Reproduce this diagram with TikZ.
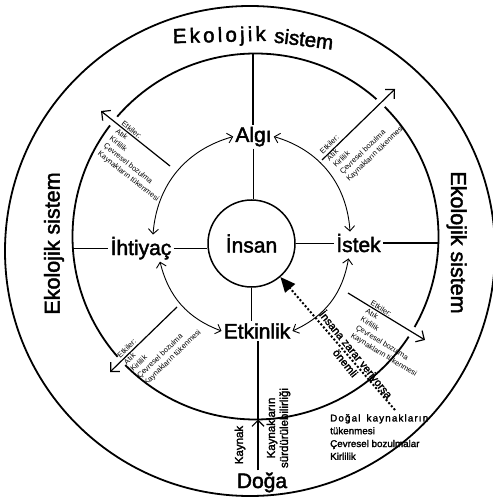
\documentclass[tikz,border=0pt]{standalone}
\usepackage{fontspec}
\setmainfont{Liberation Sans}
\newfontfamily\medfont{Liberation Sans}[FakeBold=2]
\usetikzlibrary{arrows.meta,calc}
\begin{document}
\begin{tikzpicture}[x=1pt,y=-1pt,
  lbl/.style={font=\medfont\fontsize{21}{25}\selectfont, inner sep=2pt},
  sidelbl/.style={font=\medfont\fontsize{21.5}{25}\selectfont, inner sep=0pt},
  toplbl/.style={font=\medfont\fontsize{20.5}{24}\selectfont, inner sep=0pt},
  ring/.style={draw, line width=1.8pt},
  spoke/.style={line width=1.2pt},
  barb/.style={-{Straight Barb[length=6pt,width=12pt]}},
  effarrow/.style={line width=1.2pt, -{Straight Barb[length=6.5pt,width=13pt]}, preaction={draw=white, line width=11pt, -}},
  dbl/.style={line width=0.9pt, {Straight Barb[length=5pt,width=10pt]}-{Straight Barb[length=5pt,width=10pt]}},
  etk/.style={font=\fontsize{7.5}{9.5}\selectfont, align=left, inner sep=0pt, anchor=north west},
  sm/.style={font=\medfont\fontsize{11.5}{13}\selectfont, inner sep=0pt},
]
\useasboundingbox (0,0) rectangle (492,502);
\fill[white] (0,0) rectangle (492,502);

% rings
\draw[ring] (250,251) circle[radius=245];
\draw[ring] (255.5,236.5) circle[radius=183];

% coordinates on the middle ring
\coordinate (mT) at (253,53.5);
\coordinate (mL) at (73.5,248);
\coordinate (mR) at (438,245);
\coordinate (mB) at (258,419.5);

% central and main nodes
\node[draw, circle, line width=1.5pt, minimum size=87pt, inner sep=0pt, font=\medfont\fontsize{21}{25}\selectfont] (insan) at (251.5,243.5) {İnsan};
\node[lbl, anchor=base] (algi) at (253.5,142) {Algı};
\node[lbl, anchor=base] (ihtiyac) at (141,255) {İhtiyaç};
\node[lbl, anchor=base] (istek) at (358.5,252) {İstek};
\node[lbl, anchor=base] (etkinlik) at (257,338.5) {Etkinlik};
\node[lbl, anchor=base] (doga) at (262,488) {Doğa};

% Ekolojik sistem labels
\node[sidelbl, rotate=90] (ekoL) at (54,243.5) {Ekolojik sistem};
\node[sidelbl, rotate=-90] (ekoR) at (456.6,242.5) {Ekolojik sistem};
\node[toplbl, anchor=base, rotate=1.5] (ekoT1) at (219.5,42) {\makebox[93pt]{E\hfill k\hfill o\hfill l\hfill o\hfill j\hfill i\hfill k}};
\node[toplbl, anchor=base, rotate=-7] (ekoT2) at (303,46) {sistem};

% spokes
\draw[spoke] (mT) -- (mT |- algi.north);
\draw[spoke] (algi.south) -- (algi.south |- insan.north);
\draw[spoke] (ihtiyac.west -| mL) -- (ihtiyac.west);
\draw[spoke] (ihtiyac.east) -- (ihtiyac.east -| insan.west);
\draw[spoke] (insan.east) -- (insan.east -| istek.west);
\draw[spoke] (istek.east) -- (istek.east -| mR);
\draw[spoke] (insan.south) -- (insan.south |- etkinlik.north);
\draw[spoke] (etkinlik.south -| mB) -- (mB);
\draw[spoke, barb] (doga.north -| mB) -- (mB);

% Kaynak labels
\node[sm, rotate=90] (kaynak) at (240,445) {Kaynak};
\node[sm, rotate=90, align=center] (surd) at (278.5,428) {Kaynakların\\sürdürülebilirliği};

% Etkiler arrows
\coordinate (tlA) at (170,166); \coordinate (tlB) at (101,111);
\coordinate (trA) at (322,160); \coordinate (trB) at (395,89);
\coordinate (blA) at (177,307); \coordinate (blB) at (110,372);
\coordinate (brA) at (348,293); \coordinate (brB) at (425,340);
\draw[effarrow] (tlA) -- (tlB);
\draw[effarrow] (trA) -- (trB);
\draw[effarrow] (blA) -- (blB);
\draw[effarrow] (brA) -- (brB);

% curved double arrows
\draw[dbl] (algi.west) to[bend right=35] ([xshift=12pt]ihtiyac.north);
\draw[dbl] (algi.east) to[bend left=35] ([xshift=-8.5pt]istek.north);
\draw[dbl] ([xshift=-10pt,yshift=-4pt]istek.south) to[bend left=28] (etkinlik.east);
\draw[dbl] ([xshift=19pt]ihtiyac.south) to[bend right=28] (etkinlik.west);

% Etkiler texts
\node[etk, rotate=-38.6] (etTL) at (124.4,120.2) {Etkiler:\\Atık\\Kirlilik\\Çevresel bozulma\\Kaynakların tükenmesi};
\node[etk, rotate=44] (etTR) at (318.9,150.3) {Etkiler:\\Atık\\Kirlilik\\Çevresel bozulma\\Kaynakların tükenmesi};
\node[etk, rotate=44] (etBL) at (116.2,354.3) {Etkiler:\\Atık\\Kirlilik\\Çevresel bozulma\\Kaynakların tükenmesi};
\node[etk, rotate=-31.4] (etBR) at (372.9,299.8) {Etkiler:\\Atık\\Kirlilik\\Çevresel bozulma\\Kaynakların tükenmesi};

% dotted arrow
\coordinate (dotS) at (395,410);
\draw[line width=2pt, dash pattern=on 2pt off 2pt, -{Triangle[length=15pt,width=13pt]}] (dotS) -- (insan);
\node[rotate=-51, align=center, inner sep=0pt, font=\medfont\fontsize{11}{13.5}\selectfont] (zarar) at (351.3,358.3) {İnsana zarar veriyorsa\\önemli};

% bottom right text
\node[align=left, anchor=north west, inner sep=0pt, font=\medfont\fontsize{9.8}{12.8}\selectfont] (dogal) at (330,414) {\makebox[98pt]{D\hfill o\hfill ğ\hfill a\hfill l\hskip 5pt\hfill k\hfill a\hfill y\hfill n\hfill a\hfill k\hfill l\hfill a\hfill r\hfill ı\hfill n}\\tükenmesi\\Çevresel bozulmalar\\Kirlilik};
\end{tikzpicture}
\end{document}
